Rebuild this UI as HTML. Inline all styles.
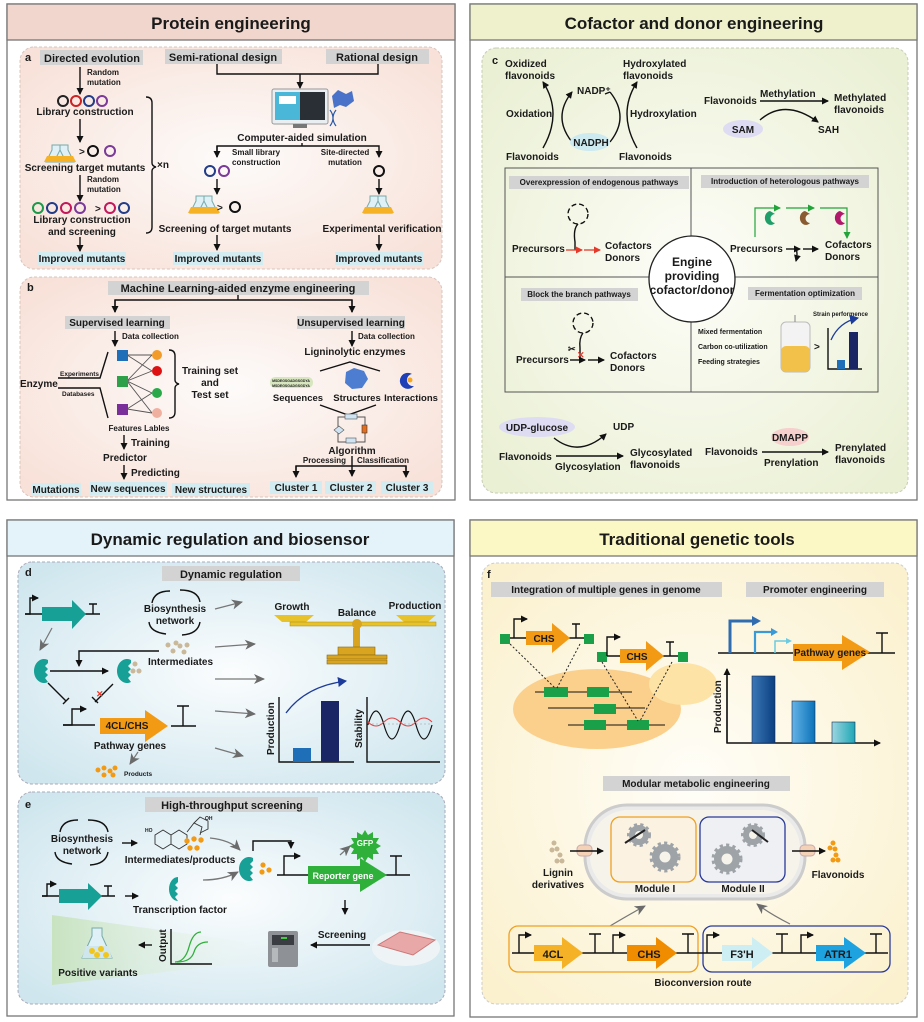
<!DOCTYPE html>
<html><head><meta charset="utf-8"><style>
html,body{margin:0;padding:0;background:#fff}
svg{display:block}
text{font-family:"Liberation Sans",Arial,sans-serif;font-weight:bold;fill:#1a1a1a}
.s{font-size:10px}.xs{font-size:8px}.xxs{font-size:6.5px}.m{font-size:11px}
.h{font-size:17px}
.c{text-anchor:middle}
.ln{stroke:#111;stroke-width:1.4;fill:none}
</style></head><body>
<svg width="924" height="1022" viewBox="0 0 924 1022" xmlns="http://www.w3.org/2000/svg">
<defs>
<marker id="ah" markerWidth="8" markerHeight="8" refX="6" refY="4" orient="auto" markerUnits="userSpaceOnUse"><path d="M0,0.5 L7,4 L0,7.5 Z" fill="#111"/></marker>
<marker id="ag" markerWidth="12" markerHeight="10" refX="10" refY="5" orient="auto" markerUnits="userSpaceOnUse"><path d="M0,0 L11,5 L0,10 L3,5 Z" fill="#6b6b6b"/></marker>
<marker id="ar" markerWidth="8" markerHeight="8" refX="6" refY="4" orient="auto" markerUnits="userSpaceOnUse"><path d="M0,0.5 L7,4 L0,7.5 Z" fill="#e53a2a"/></marker>
<marker id="agr" markerWidth="8" markerHeight="8" refX="6" refY="4" orient="auto" markerUnits="userSpaceOnUse"><path d="M0,0.5 L7,4 L0,7.5 Z" fill="#22a43a"/></marker>
<marker id="ab" markerWidth="10" markerHeight="10" refX="8" refY="5" orient="auto" markerUnits="userSpaceOnUse"><path d="M0,0 L9,5 L0,10 Z" fill="#1d3c9a"/></marker>
<radialGradient id="gp" cx="50%" cy="50%" r="65%"><stop offset="0" stop-color="#fdfbfa"/><stop offset="1" stop-color="#f8e1d8"/></radialGradient>
<radialGradient id="gg" cx="50%" cy="50%" r="65%"><stop offset="0" stop-color="#fdfdf8"/><stop offset="1" stop-color="#eaf0d4"/></radialGradient>
<radialGradient id="gb" cx="50%" cy="50%" r="65%"><stop offset="0" stop-color="#fbfdfe"/><stop offset="1" stop-color="#cfe6ee"/></radialGradient>
<radialGradient id="gy" cx="50%" cy="50%" r="65%"><stop offset="0" stop-color="#fffef8"/><stop offset="1" stop-color="#fbf1cf"/></radialGradient>
<linearGradient id="fade" x1="0" x2="1"><stop offset="0" stop-color="#c8e3c0"/><stop offset="1" stop-color="#eef6ee" stop-opacity="0"/></linearGradient>
<linearGradient id="b1" x1="0" x2="1"><stop offset="0" stop-color="#3b78b7"/><stop offset="1" stop-color="#0b3f80"/></linearGradient>
<linearGradient id="b2" x1="0" x2="1"><stop offset="0" stop-color="#64b3e6"/><stop offset="1" stop-color="#0a72b8"/></linearGradient>
<linearGradient id="b3" x1="0" x2="1"><stop offset="0" stop-color="#9bd6e0"/><stop offset="1" stop-color="#1fa6b5"/></linearGradient>
</defs>

<rect x="7" y="4" width="448" height="496" fill="#fff" stroke="#777" stroke-width="1.3"/>
<rect x="7" y="4" width="448" height="36" fill="#f0d6cd" stroke="#777" stroke-width="1.3"/>
<text x="231" y="29" class="h c">Protein engineering</text>

<rect x="470" y="4" width="447" height="496" fill="#fff" stroke="#777" stroke-width="1.3"/>
<rect x="470" y="4" width="447" height="36" fill="#eef1cc" stroke="#777" stroke-width="1.3"/>
<text x="694" y="29" class="h c">Cofactor and donor engineering</text>

<rect x="7" y="520" width="447" height="496" fill="#fff" stroke="#777" stroke-width="1.3"/>
<rect x="7" y="520" width="447" height="36" fill="#e4f2f9" stroke="#777" stroke-width="1.3"/>
<text x="230" y="545" class="h c">Dynamic regulation and biosensor</text>

<rect x="470" y="520" width="447" height="497" fill="#fff" stroke="#777" stroke-width="1.3"/>
<rect x="470" y="520" width="447" height="36" fill="#fcf8c6" stroke="#777" stroke-width="1.3"/>
<text x="697" y="545" class="h c">Traditional genetic tools</text>

<rect x="20" y="47" width="422" height="222" rx="14" fill="url(#gp)" stroke="#d9c4bd" stroke-dasharray="3,2"/>
<rect x="20" y="277" width="422" height="220" rx="14" fill="url(#gp)" stroke="#d9c4bd" stroke-dasharray="3,2"/>
<rect x="482" y="48" width="426" height="445" rx="14" fill="url(#gg)" stroke="#c7ccb5" stroke-dasharray="3,2"/>
<rect x="18" y="562" width="427" height="222" rx="14" fill="url(#gb)" stroke="#aab" stroke-dasharray="3,2"/>
<rect x="18" y="792" width="427" height="212" rx="14" fill="url(#gb)" stroke="#aab" stroke-dasharray="3,2"/>
<rect x="482" y="563" width="426" height="441" rx="14" fill="url(#gy)" stroke="#ccc" stroke-dasharray="3,2"/>

<!-- PANEL A -->
<text x="25" y="61" class="m">a</text>
<rect x="40" y="50" width="103" height="15" fill="#d3d3d3"/><text x="92" y="62" class="m c">Directed evolution</text>
<rect x="165" y="49" width="117" height="15" fill="#d3d3d3"/><text x="223" y="61" class="m c">Semi-rational design</text>
<rect x="326" y="49" width="103" height="15" fill="#d3d3d3"/><text x="377" y="61" class="m c">Rational design</text>
<line x1="80" y1="67" x2="80" y2="94" class="ln" marker-end="url(#ah)"/>
<text x="87" y="75" class="xs">Random</text><text x="87" y="85" class="xs">mutation</text>
<g fill="none" stroke-width="2">
<circle cx="63" cy="101" r="5" stroke="#222"/><circle cx="76" cy="101" r="5" stroke="#c22"/><circle cx="89" cy="101" r="5" stroke="#223c8a"/><circle cx="102" cy="101" r="5" stroke="#7a3a9a"/>
</g>
<text x="85" y="115" class="s c">Library construction</text>
<line x1="80" y1="119" x2="80" y2="142" class="ln" marker-end="url(#ah)"/>
<path d="M52,145 h8 v5 l6,12 h-20 l6,-12z M60,145 h8 v5 l6,12 h-20 l6,-12z" fill="#dff0f6" stroke="#7aa"/>
<path d="M47,156 h18 l3,6 h-24z M55,156 h18 l3,6 h-24z" fill="#f5b227"/>
<text x="79" y="155" class="s" fill="#223c8a">&gt;</text>
<circle cx="93" cy="151" r="5" fill="none" stroke="#111" stroke-width="2"/><circle cx="110" cy="151" r="5" fill="none" stroke="#7a3a9a" stroke-width="2"/>
<text x="85" y="171" class="s c">Screening target mutants</text>
<line x1="80" y1="175" x2="80" y2="201" class="ln" marker-end="url(#ah)"/>
<text x="87" y="182" class="xs">Random</text><text x="87" y="192" class="xs">mutation</text>
<g fill="none" stroke-width="2">
<circle cx="38" cy="208" r="5" stroke="#1a9a4a"/><circle cx="52" cy="208" r="5" stroke="#223c8a"/><circle cx="66" cy="208" r="5" stroke="#c2185b"/><circle cx="80" cy="208" r="5" stroke="#7a3a9a"/>
<circle cx="110" cy="208" r="5" stroke="#c2185b"/><circle cx="124" cy="208" r="5" stroke="#223c8a"/>
</g>
<text x="95" y="212" class="s" fill="#223c8a">&gt;</text>
<text x="82" y="223" class="s c">Library construction</text><text x="82" y="235" class="s c">and screening</text>
<line x1="80" y1="237" x2="80" y2="251" class="ln" marker-end="url(#ah)"/>
<rect x="38" y="252" width="88" height="13" fill="#d2ecf1"/><text x="82" y="262" class="s c">Improved mutants</text>
<path d="M146,97 q6,0 6,6 v60 q0,3 4,4 q-4,1 -4,4 v56 q0,6 -6,6" class="ln" stroke-width="1.2"/>
<text x="157" y="168" class="s">×n</text>
<polyline points="217,64 217,74 378,74 378,64" class="ln"/>
<line x1="300" y1="74" x2="300" y2="88" class="ln" marker-end="url(#ah)"/>
<rect x="272" y="89" width="56" height="35" rx="2" fill="#e9eef2" stroke="#999"/>
<rect x="275" y="92" width="25" height="28" fill="#4ab6d8"/><rect x="279" y="96" width="17" height="8" fill="#fff"/>
<rect x="300" y="92" width="25" height="28" fill="#2a2f36"/>
<rect x="293" y="124" width="14" height="4" fill="#777"/>
<path d="M332,96 l6,-6 l8,4 l6,-3 l2,10 l-8,6 l-6,-2 l-6,3z" fill="#4a72c8"/>
<path d="M330,110 q6,8 0,16 M336,110 q-6,8 0,16" stroke="#2a5aa8" stroke-width="1.2" fill="none"/>
<text x="302" y="141" class="s c">Computer-aided simulation</text>
<polyline points="217,157 217,146 379,146 379,157" class="ln" marker-end="url(#ah)"/>
<line x1="217" y1="146" x2="217" y2="157" class="ln" marker-end="url(#ah)"/>
<line x1="302" y1="143" x2="302" y2="146" class="ln"/>
<text x="232" y="155" class="xs">Small library</text><text x="232" y="165" class="xs">construction</text>
<text x="345" y="155" class="xs c">Site-directed</text><text x="345" y="165" class="xs c">mutation</text>
<circle cx="210" cy="171" r="5" fill="none" stroke="#223c8a" stroke-width="2"/><circle cx="224" cy="171" r="5" fill="none" stroke="#7a3a9a" stroke-width="2"/>
<line x1="217" y1="179" x2="217" y2="194" class="ln" marker-end="url(#ah)"/>
<path d="M196,196 h8 v5 l6,12 h-20 l6,-12z M204,196 h8 v5 l6,12 h-20 l6,-12z" fill="#dff0f6" stroke="#7aa"/>
<path d="M191,207 h18 l3,6 h-24z M199,207 h18 l3,6 h-24z" fill="#f5b227"/>
<text x="217" y="211" class="s" fill="#223c8a">&gt;</text>
<circle cx="235" cy="207" r="5" fill="none" stroke="#111" stroke-width="2"/>
<text x="225" y="232" class="s c">Screening of target mutants</text>
<line x1="217" y1="235" x2="217" y2="250" class="ln" marker-end="url(#ah)"/>
<rect x="173" y="252" width="90" height="13" fill="#d2ecf1"/><text x="218" y="262" class="s c">Improved mutants</text>
<circle cx="379" cy="171" r="5" fill="none" stroke="#111" stroke-width="2"/>
<line x1="379" y1="179" x2="379" y2="194" class="ln" marker-end="url(#ah)"/>
<path d="M370,196 h8 v5 l6,12 h-20 l6,-12z M378,196 h8 v5 l6,12 h-20 l6,-12z" fill="#dff0f6" stroke="#7aa"/>
<path d="M365,207 h18 l3,6 h-24z M373,207 h18 l3,6 h-24z" fill="#f5b227"/>
<text x="382" y="232" class="s c">Experimental verification</text>
<line x1="379" y1="235" x2="379" y2="250" class="ln" marker-end="url(#ah)"/>
<rect x="335" y="252" width="88" height="13" fill="#d2ecf1"/><text x="379" y="262" class="s c">Improved mutants</text>

<!-- PANEL B -->
<text x="27" y="291" class="m">b</text>
<rect x="108" y="281" width="261" height="14" fill="#d3d3d3"/><text x="238" y="292" class="m c">Machine Learning-aided enzyme engineering</text>
<line x1="238" y1="295" x2="238" y2="300" class="ln"/>
<polyline points="115,312 115,300 352,300 352,312" class="ln"/>
<line x1="115" y1="300" x2="115" y2="312" class="ln" marker-end="url(#ah)"/>
<line x1="352" y1="300" x2="352" y2="312" class="ln" marker-end="url(#ah)"/>
<rect x="65" y="316" width="105" height="13" fill="#d3d3d3"/><text x="117" y="326" class="s c">Supervised learning</text>
<rect x="297" y="316" width="108" height="13" fill="#d3d3d3"/><text x="351" y="326" class="s c">Unsupervised learning</text>
<line x1="115" y1="331" x2="115" y2="346" class="ln" marker-end="url(#ah)"/><text x="122" y="339" class="xs">Data collection</text>
<line x1="352" y1="331" x2="352" y2="346" class="ln" marker-end="url(#ah)"/><text x="358" y="339" class="xs">Data collection</text>
<g stroke="#555" stroke-width="0.9">
<line x1="127" y1="355" x2="152" y2="355"/><line x1="127" y1="355" x2="152" y2="371"/><line x1="127" y1="381" x2="152" y2="355"/><line x1="127" y1="381" x2="152" y2="393"/>
<line x1="127" y1="381" x2="152" y2="371"/><line x1="127" y1="409" x2="152" y2="393"/><line x1="127" y1="409" x2="152" y2="413"/><line x1="127" y1="381" x2="152" y2="413"/>
</g>
<rect x="117" y="350" width="11" height="11" fill="#1f6fb8"/><rect x="117" y="376" width="11" height="11" fill="#2ea04a"/><rect x="117" y="404" width="11" height="11" fill="#7a2e9a"/>
<circle cx="157" cy="355" r="5" fill="#f29b2a"/><circle cx="157" cy="371" r="5" fill="#d11"/><circle cx="157" cy="393" r="5" fill="#2aa84a"/><circle cx="157" cy="413" r="5" fill="#f0b0a0"/>
<text x="20" y="387" class="s">Enzyme</text>
<polyline points="58,378 100,378 108,352" class="ln" stroke-width="1"/><polyline points="58,388 100,388 108,418" class="ln" stroke-width="1"/>
<text x="60" y="376" class="xxs">Experiments</text><text x="62" y="396" class="xxs">Databases</text>
<path d="M169,350 q6,0 6,6 v24 q0,3 4,4 q-4,1 -4,4 v24 q0,6 -6,6" class="ln" stroke-width="1.2"/>
<text x="210" y="374" class="s c">Training set</text><text x="210" y="386" class="s c">and</text><text x="210" y="398" class="s c">Test set</text>
<text x="139" y="431" class="xs c">Features Lables</text>
<line x1="124" y1="435" x2="124" y2="449" class="ln" marker-end="url(#ah)"/><text x="131" y="446" class="s">Training</text>
<text x="125" y="461" class="s c">Predictor</text>
<line x1="124" y1="465" x2="124" y2="479" class="ln" marker-end="url(#ah)"/><text x="131" y="476" class="s">Predicting</text>
<rect x="32" y="483" width="49" height="13" fill="#d2ecf1"/><text x="56" y="493" class="s c">Mutations</text>
<rect x="90" y="482" width="77" height="13" fill="#d2ecf1"/><text x="128" y="492" class="s c">New sequences</text>
<rect x="172" y="483" width="78" height="13" fill="#d2ecf1"/><text x="211" y="493" class="s c">New structures</text>
<text x="355" y="355" class="s c">Ligninolytic enzymes</text>
<polyline points="320,371 350,362 380,371" class="ln" stroke-width="1"/>
<rect x="270" y="377" width="43" height="11" rx="5" fill="#d8e6c0"/>
<text x="291" y="382" class="c" style="font-size:3.5px">MSDEGSGADGSGDYA</text><text x="291" y="387" class="c" style="font-size:3.5px">MSDEGSGADGSGDYA</text>
<path d="M346,372 l8,-4 l10,3 l4,8 l-6,9 l-10,1 l-7,-6z" fill="#4c7dd0"/>
<path d="M412,374 a8,8 0 1 0 2,12 a5,5 0 0 1 -2,-12z" fill="#1f3fb8"/><circle cx="410" cy="380" r="2.5" fill="#f5a623"/>
<text x="298" y="401" class="c" style="font-size:9.5px">Sequences</text><text x="357" y="401" class="c" style="font-size:9.5px">Structures</text><text x="411" y="401" class="c" style="font-size:9.5px">Interactions</text>
<polyline points="320,405 348,415 376,405" class="ln" stroke-width="1"/>
<rect x="338" y="417" width="27" height="25" fill="none" stroke="#555"/>
<rect x="345" y="414" width="12" height="5" fill="#cfe3f2" stroke="#555" stroke-width=".6"/>
<rect x="362" y="425" width="5" height="8" fill="#e56e1d" stroke="#333" stroke-width=".6"/>
<path d="M334,430 l5,-4 l5,4 l-5,4z" fill="#cfe3f2" stroke="#555" stroke-width=".6"/>
<rect x="346" y="438" width="10" height="5" fill="#cfe3f2" stroke="#555" stroke-width=".6"/>
<text x="352" y="454" class="s c">Algorithm</text>
<text x="346" y="463" class="xs" text-anchor="end">Processing</text><text x="357" y="463" class="xs">Classification</text>
<line x1="352" y1="456" x2="352" y2="476" class="ln" marker-end="url(#ah)"/>
<polyline points="296,476 296,466 406,466 406,476" class="ln"/>
<line x1="296" y1="466" x2="296" y2="477" class="ln" marker-end="url(#ah)"/><line x1="406" y1="466" x2="406" y2="477" class="ln" marker-end="url(#ah)"/>
<rect x="270" y="481" width="52" height="13" fill="#d2ecf1"/><text x="296" y="491" class="s c">Cluster 1</text>
<rect x="325" y="481" width="51" height="13" fill="#d2ecf1"/><text x="351" y="491" class="s c">Cluster 2</text>
<rect x="381" y="481" width="52" height="13" fill="#d2ecf1"/><text x="407" y="491" class="s c">Cluster 3</text>

<!-- PANEL C -->
<text x="492" y="64" class="m">c</text>
<text x="505" y="67" class="s">Oxidized</text><text x="505" y="79" class="s">flavonoids</text>
<text x="623" y="67" class="s">Hydroxylated</text><text x="623" y="79" class="s">flavonoids</text>
<path d="M543,148 q20,-35 0,-66" class="ln" marker-end="url(#ah)"/>
<path d="M637,148 q-20,-35 0,-66" class="ln" marker-end="url(#ah)"/>
<path d="M572,142 q-20,-25 0,-50" class="ln" marker-end="url(#ah)"/>
<path d="M610,142 q20,-25 0,-50" class="ln"/><path d="M610,92 l-5,2" class="ln"/>
<ellipse cx="590" cy="142" rx="20" ry="9" fill="#cdeaf0"/>
<text x="591" y="146" class="s c">NADPH</text>
<text x="577" y="94" class="s">NADP⁺</text>
<text x="506" y="117" class="s">Oxidation</text><text x="630" y="117" class="s">Hydroxylation</text>
<text x="506" y="160" class="s">Flavonoids</text><text x="619" y="160" class="s">Flavonoids</text>
<text x="704" y="104" class="s">Flavonoids</text>
<text x="760" y="97" class="s">Methylation</text>
<line x1="760" y1="101" x2="828" y2="101" class="ln" marker-end="url(#ah)"/>
<text x="834" y="101" class="s">Methylated</text><text x="834" y="113" class="s">flavonoids</text>
<ellipse cx="743" cy="129" rx="20" ry="9" fill="#dedcf2"/><text x="743" y="133" class="s c">SAM</text>
<path d="M760,120 q25,-22 58,2" class="ln" marker-end="url(#ah)"/>
<text x="818" y="133" class="s">SAH</text>
<rect x="505" y="168" width="373" height="224" fill="none" stroke="#555"/>
<line x1="691" y1="168" x2="691" y2="392" stroke="#555"/><line x1="505" y1="277" x2="878" y2="277" stroke="#555"/>
<circle cx="692" cy="279" r="43" fill="#fff" stroke="#222" stroke-width="1.3"/>
<text x="692" y="266" class="c" style="font-size:12px">Engine</text><text x="692" y="280" class="c" style="font-size:12px">providing</text><text x="692" y="294" class="c" style="font-size:12px">cofactor/donor</text>
<rect x="509" y="176" width="180" height="13" fill="#d3d3d3"/><text x="599" y="185" class="xs c">Overexpression of endogenous pathways</text>
<rect x="701" y="175" width="168" height="13" fill="#d3d3d3"/><text x="785" y="184" class="xs c">Introduction of heterologous pathways</text>
<rect x="521" y="288" width="117" height="13" fill="#d3d3d3"/><text x="579" y="297" class="xs c">Block the branch pathways</text>
<rect x="748" y="287" width="114" height="13" fill="#d3d3d3"/><text x="805" y="296" class="xs c">Fermentation optimization</text>
<circle cx="578" cy="214" r="10" fill="none" stroke="#111" stroke-width="1.4" stroke-dasharray="5,3"/>
<path d="M578,224 q-5,5 -3,18 v8" class="ln"/>
<text x="512" y="252" class="s">Precursors</text>
<line x1="566" y1="250" x2="582" y2="250" stroke="#e53a2a" stroke-width="1.3" marker-end="url(#ar)"/>
<line x1="584" y1="250" x2="600" y2="250" stroke="#e53a2a" stroke-width="1.3" marker-end="url(#ar)"/>
<text x="605" y="249" class="s">Cofactors</text><text x="605" y="261" class="s">Donors</text>
<polyline points="755,237 755,208 780,208" fill="none" stroke="#22a43a" stroke-width="1.2" marker-end="url(#agr)"/>
<line x1="786" y1="208" x2="814" y2="208" stroke="#22a43a" stroke-width="1.2" marker-end="url(#agr)"/>
<polyline points="820,208 847,208 847,238" fill="none" stroke="#22a43a" stroke-width="1.2" marker-end="url(#agr)"/>
<path d="M770,211 a6,7 0 1 0 5,12 a3,3 0 0 1 0,-9z" fill="#1f9e6a"/>
<path d="M805,211 a6,7 0 1 0 5,12 a3,3 0 0 1 0,-9z" fill="#8a5a30"/>
<path d="M840,211 a6,7 0 1 0 5,12 a3,3 0 0 1 0,-9z" fill="#b0186a"/>
<text x="730" y="252" class="s">Precursors</text>
<line x1="786" y1="249" x2="800" y2="249" class="ln" marker-end="url(#ah)"/><line x1="803" y1="249" x2="818" y2="249" class="ln" marker-end="url(#ah)"/>
<path d="M796,249 q2,4 0,12" class="ln" stroke-width="1" marker-end="url(#ah)"/>
<text x="825" y="248" class="s">Cofactors</text><text x="825" y="260" class="s">Donors</text>
<circle cx="583" cy="323" r="10" fill="none" stroke="#111" stroke-width="1.4" stroke-dasharray="5,3"/>
<path d="M583,333 q-4,5 -3,15 v10" class="ln"/>
<text x="568" y="352" style="font-size:9px">✂</text>
<text x="577" y="358" style="font-size:9px;fill:#e53a2a">✕</text>
<text x="516" y="363" class="s">Precursors</text>
<line x1="570" y1="360" x2="585" y2="360" class="ln" marker-end="url(#ah)"/><line x1="588" y1="360" x2="604" y2="360" class="ln" marker-end="url(#ah)"/>
<text x="610" y="359" class="s">Cofactors</text><text x="610" y="371" class="s">Donors</text>
<text x="698" y="334" style="font-size:7px">Mixed fermentation</text>
<text x="698" y="349" style="font-size:7px">Carbon co-utilization</text>
<text x="698" y="364" style="font-size:7px">Feeding strategies</text>
<rect x="781" y="322" width="29" height="50" rx="5" fill="#f3f3f3" stroke="#bbb"/>
<rect x="781" y="346" width="29" height="26" rx="5" fill="#f2c14a"/>
<line x1="795" y1="315" x2="795" y2="322" stroke="#888"/>
<text x="814" y="350" class="s" fill="#223c8a">&gt;</text>
<polyline points="828,328 828,369 862,369" class="ln" stroke-width="1.2"/>
<rect x="837" y="360" width="8" height="9" fill="#1f6fb8"/><rect x="849" y="332" width="9" height="37" fill="#1a2566"/>
<path d="M831,340 q8,-18 27,-22" fill="none" stroke="#1d3c9a" stroke-width="1.3" marker-end="url(#ab)"/>
<text x="813" y="316" style="font-size:6px">Strain performence</text>
<ellipse cx="537" cy="427" rx="38" ry="10" fill="#dedcf2"/><text x="537" y="431" class="s c">UDP-glucose</text>
<text x="613" y="430" class="s">UDP</text>
<path d="M554,438 q25,20 52,-4" class="ln" marker-end="url(#ah)"/>
<text x="499" y="460" class="s">Flavonoids</text>
<line x1="556" y1="456" x2="623" y2="456" class="ln" marker-end="url(#ah)"/>
<text x="555" y="470" class="s">Glycosylation</text>
<text x="630" y="456" class="s">Glycosylated</text><text x="630" y="468" class="s">flavonoids</text>
<text x="705" y="455" class="s">Flavonoids</text>
<ellipse cx="790" cy="437" rx="19" ry="9" fill="#f6d0cc"/><text x="790" y="441" class="s c">DMAPP</text>
<line x1="762" y1="452" x2="828" y2="452" class="ln" marker-end="url(#ah)"/>
<text x="764" y="466" class="s">Prenylation</text>
<text x="835" y="451" class="s">Prenylated</text><text x="835" y="463" class="s">flavonoids</text>

<!-- PANEL D -->
<text x="25" y="576" class="m">d</text>
<rect x="162" y="566" width="138" height="15" fill="#d3d3d3"/><text x="231" y="578" class="m c">Dynamic regulation</text>
<polyline points="25,614 30,614 30,598 38,598" class="ln" marker-end="url(#ah)"/><line x1="25" y1="614" x2="100" y2="614" class="ln"/>
<polygon points="42,607 72,607 72,600 86,614 72,629 72,621 42,621" fill="#17a096"/>
<path d="M93,604 v10 M89,604 h8" class="ln"/>
<text x="175" y="612" class="s c">Biosynthesis</text><text x="175" y="624" class="s c">network</text>
<path d="M152,603 q2,-12 18,-12 M180,590 q18,0 20,12 M200,622 q-2,12 -18,13 M166,634 q-16,-2 -17,-12" class="ln" stroke-width="1"/>
<g fill="#c9b89a"><circle cx="168" cy="645" r="2.5"/><circle cx="173" cy="651" r="2.5"/><circle cx="180" cy="646" r="2.5"/><circle cx="187" cy="645" r="2.5"/><circle cx="184" cy="652" r="2.5"/><circle cx="176" cy="643" r="2.5"/></g>
<text x="148" y="665" class="s">Intermediates</text>
<path d="M159,651 h-80 v15" class="ln" marker-end="url(#ah)"/>
<path d="M52,628 l-12,22" stroke="#777" stroke-width="1.2" marker-end="url(#ag)"/>
<path d="M48,660 a10,12 0 1 0 0,22 l-3,-4 l3,-3 l-3,-3 l3,-3 l-3,-3 l3,-3z" fill="#17a096"/>
<line x1="50" y1="671" x2="108" y2="671" class="ln" marker-end="url(#ah)"/>
<path d="M131,660 a10,12 0 1 0 0,22 l-3,-4 l3,-3 l-3,-3 l3,-3 l-3,-3 l3,-3z" fill="#17a096"/>
<g fill="#c9b89a"><circle cx="135" cy="664" r="2.5"/><circle cx="133" cy="671" r="2.5"/><circle cx="139" cy="671" r="2.5"/></g>
<path d="M48,683 l18,18 M63,704 l6,-6" class="ln"/>
<path d="M113,684 l-18,18 M92,697 l6,6" class="ln"/>
<text x="96" y="697" style="font-size:9px;fill:#e53a2a">✕</text>
<polyline points="63,725 72,725 72,709 86,709" class="ln" marker-end="url(#ah)"/><line x1="63" y1="725" x2="95" y2="725" class="ln"/>
<polygon points="100,718 145,718 145,710 168,726 145,742 145,734 100,734" fill="#f39a14"/>
<text x="127" y="729" class="s c">4CL/CHS</text>
<line x1="171" y1="726" x2="196" y2="726" class="ln"/><path d="M183,706 v20 M177,706 h12" class="ln"/>
<text x="130" y="749" class="s c">Pathway genes</text>
<path d="M138,752 l-8,12" stroke="#777" stroke-width="1.2" marker-end="url(#ag)"/>
<g fill="#f39a14"><circle cx="98" cy="770" r="2.5"/><circle cx="104" cy="775" r="2.5"/><circle cx="104" cy="768" r="2.5"/><circle cx="110" cy="771" r="2.5"/><circle cx="115" cy="768" r="2.5"/><circle cx="113" cy="775" r="2.5"/></g>
<text x="124" y="776" style="font-size:6.5px">Products</text>
<g stroke="#777" stroke-width="1.3">
<line x1="215" y1="609" x2="242" y2="602" marker-end="url(#ag)"/>
<line x1="215" y1="647" x2="255" y2="644" marker-end="url(#ag)"/>
<line x1="215" y1="679" x2="264" y2="679" marker-end="url(#ag)"/>
<line x1="215" y1="711" x2="255" y2="714" marker-end="url(#ag)"/>
<line x1="215" y1="748" x2="243" y2="756" marker-end="url(#ag)"/>
</g>
<text x="292" y="610" class="s c">Growth</text><text x="357" y="616" class="s c">Balance</text><text x="415" y="609" class="s c">Production</text>
<path d="M274,615 h40 l-8,7 h-24z M396,615 h40 l-8,7 h-24z" fill="#e8c22a"/>
<rect x="290" y="622" width="146" height="4" fill="#e8c22a" stroke="#a88a10" stroke-width=".5"/>
<circle cx="357" cy="624" r="5" fill="#d9a420"/>
<rect x="353" y="628" width="7" height="20" fill="#d9a420"/>
<rect x="338" y="647" width="37" height="8" fill="#d9a420" stroke="#8a6a10" stroke-width=".6"/>
<rect x="327" y="655" width="60" height="4" fill="#d9a420" stroke="#8a6a10" stroke-width=".6"/>
<rect x="327" y="660" width="60" height="4" fill="#d9a420" stroke="#8a6a10" stroke-width=".6"/>
<polyline points="279,697 279,762 354,762" class="ln" stroke-width="1.2"/>
<rect x="293" y="748" width="18" height="14" fill="#1f6fb8"/><rect x="321" y="701" width="18" height="61" fill="#1a2566"/>
<path d="M286,713 q20,-27 60,-32" fill="none" stroke="#1d3c9a" stroke-width="1.3" marker-end="url(#ab)"/>
<text x="274" y="755" class="s" transform="rotate(-90 274 755)">Production</text>
<polyline points="367,697 367,762 440,762" class="ln" stroke-width="1.2"/>
<text x="362" y="748" class="s" transform="rotate(-90 362 748)">Stability</text>
<path d="M368,725 q8,-28 16,0 t16,0 t16,0 t16,0" fill="none" stroke="#111" stroke-width="1.2"/>
<path d="M368,722 q8,8 16,0 t16,0 t16,0 t16,0" fill="none" stroke="#e04040" stroke-width="1"/>
<line x1="368" y1="724" x2="432" y2="724" stroke="#999" stroke-dasharray="2,2" stroke-width=".6"/>

<!-- PANEL E -->
<text x="25" y="808" class="m">e</text>
<rect x="145" y="797" width="173" height="15" fill="#d3d3d3"/><text x="232" y="809" class="m c">High-throughput screening</text>
<text x="82" y="842" class="s c">Biosynthesis</text><text x="82" y="854" class="s c">network</text>
<path d="M60,832 q2,-12 18,-12 M88,820 q18,0 20,12 M108,852 q-2,12 -18,13 M72,864 q-16,-2 -17,-12" class="ln" stroke-width="1"/>
<line x1="122" y1="843" x2="137" y2="843" class="ln" marker-end="url(#ah)"/>
<path d="M155,835 l8,-5 l8,5 v9 l-8,5 l-8,-5z M171,835 l8,-5 l8,5 v9 l-8,5 l-8,-5z M187,832 l7,-9 l8,4 l-2,8 M194,823 l6,-6 l8,4 v8 l-8,4" fill="none" stroke="#333" stroke-width=".9"/>
<text x="145" y="832" style="font-size:5px">HO</text><text x="205" y="820" style="font-size:5px">OH</text>
<g fill="#f39a14"><circle cx="187" cy="841" r="2.7"/><circle cx="194" cy="839" r="2.7"/><circle cx="201" cy="840" r="2.7"/><circle cx="190" cy="848" r="2.7"/><circle cx="197" cy="848" r="2.7"/></g>
<text x="180" y="863" class="s c">Intermediates/products</text>
<path d="M210,838 q20,2 30,12" stroke="#777" stroke-width="1.3" fill="none" marker-end="url(#ag)"/>
<path d="M253,858 a10,12 0 1 0 0,22 l-3,-4 l3,-3 l-3,-3 l3,-3 l-3,-3 l3,-3z" fill="#17a096"/>
<g fill="#f39a14"><circle cx="263" cy="865" r="2.6"/><circle cx="262" cy="872" r="2.6"/><circle cx="269" cy="870" r="2.6"/></g>
<polyline points="253,851 253,841 291,841 291,848" class="ln" stroke-width="1" marker-end="url(#ah)"/>
<polyline points="284,875 284,856 300,856" class="ln" marker-end="url(#ah)"/>
<line x1="277" y1="875" x2="410" y2="875" class="ln"/>
<polygon points="308,866 360,866 360,858 387,875 360,892 360,884 308,884" fill="#2fb03a"/>
<text x="343" y="879" class="c" style="fill:#fff;font-size:9px">Reporter gene</text>
<path d="M396,856 v19 M390,856 h12" class="ln"/>
<path d="M365,830 l3,5 l5,-3 l0,6 l6,0 l-3,5 l5,3 l-5,3 l3,5 l-6,0 l0,6 l-5,-3 l-3,5 l-3,-5 l-5,3 l0,-6 l-6,0 l3,-5 l-5,-3 l5,-3 l-3,-5 l6,0 l0,-6 l5,3z" fill="#2fb03a"/>
<text x="365" y="846" class="c" style="fill:#fff;font-size:8px">GFP</text>
<line x1="340" y1="855" x2="350" y2="846" stroke="#777" stroke-width="1.2" marker-end="url(#ag)"/>
<polyline points="42,896 47,896 47,884 56,884" class="ln" marker-end="url(#ah)"/><line x1="42" y1="896" x2="115" y2="896" class="ln"/>
<polygon points="59,889 88,889 88,883 102,896 88,910 88,903 59,903" fill="#17a096"/>
<path d="M108,886 v10 M104,886 h8" class="ln"/>
<line x1="125" y1="896" x2="138" y2="896" class="ln" marker-end="url(#ah)"/>
<path d="M178,877 a9,12 0 1 0 0,24 l-3,-4 l3,-3 l-3,-3 l3,-3 l-3,-3 l3,-3z" fill="#17a096"/>
<path d="M203,880 q20,0 35,-8" stroke="#777" stroke-width="1.3" fill="none" marker-end="url(#ag)"/>
<text x="180" y="913" class="s c">Transcription factor</text>
<line x1="345" y1="900" x2="345" y2="914" class="ln" marker-end="url(#ah)"/>
<polygon points="52,915 270,945 270,960 52,985" fill="url(#fade)"/>
<path d="M92,928 h10 v8 l10,22 h-30 l10,-22z" fill="#dff0f6" stroke="#7aa"/>
<path d="M86,946 h22 l4,12 h-30z" fill="#cfe6ee"/>
<g fill="#f2c61a"><circle cx="92" cy="951" r="3"/><circle cx="101" cy="949" r="3"/><circle cx="97" cy="955" r="3"/><circle cx="106" cy="955" r="3"/></g>
<text x="98" y="976" class="s c">Positive variants</text>
<line x1="152" y1="945" x2="139" y2="945" class="ln" marker-end="url(#ah)"/>
<polyline points="171,929 171,964 212,964" class="ln" stroke-width="1.1"/>
<text x="166" y="962" class="s" transform="rotate(-90 166 962)">Output</text>
<path d="M175,962 q10,0 14,-15 q4,-15 12,-15" fill="none" stroke="#2fb03a" stroke-width="1.3"/>
<path d="M177,962 q14,0 17,-10 q3,-10 14,-10" fill="none" stroke="#2fb03a" stroke-width="1.3"/>
<rect x="268" y="931" width="30" height="36" rx="2" fill="#8e9296"/>
<rect x="272" y="935" width="22" height="10" fill="#3a3d42"/><rect x="281" y="937" width="6" height="2" fill="#4c4"/>
<rect x="272" y="948" width="6" height="14" fill="#b6b9bc"/>
<text x="342" y="938" class="s c">Screening</text>
<line x1="370" y1="945" x2="311" y2="945" class="ln" marker-end="url(#ah)"/>
<ellipse cx="406" cy="948" rx="34" ry="18" fill="#eef4f6"/>
<path d="M378,945 l22,-13 l35,8 l-22,15z" fill="#e8a8a8" stroke="#c77"/>

<!-- PANEL F -->
<text x="487" y="578" class="m">f</text>
<rect x="491" y="582" width="231" height="15" fill="#d3d3d3"/><text x="606" y="593" class="s c">Integration of multiple genes in genome</text>
<rect x="746" y="582" width="138" height="15" fill="#d3d3d3"/><text x="815" y="593" class="s c">Promoter engineering</text>
<ellipse cx="597" cy="709" rx="84" ry="40" fill="#fbd08c"/>
<ellipse cx="683" cy="684" rx="34" ry="21" fill="#fde3a6"/>
<g stroke="#111" stroke-width="1.1">
<line x1="535" y1="692" x2="632" y2="692"/><line x1="548" y1="708" x2="645" y2="708"/><line x1="568" y1="725" x2="665" y2="725"/>
</g>
<g fill="#1aa048"><rect x="544" y="687" width="24" height="10"/><rect x="587" y="687" width="22" height="10"/><rect x="594" y="704" width="22" height="10"/><rect x="584" y="720" width="22" height="10"/><rect x="627" y="720" width="22" height="10"/>
<rect x="500" y="634" width="10" height="10"/><rect x="584" y="634" width="10" height="10"/><rect x="597" y="652" width="10" height="10"/><rect x="678" y="652" width="10" height="10"/></g>
<line x1="510" y1="638" x2="584" y2="638" class="ln"/>
<polyline points="514,638 514,619 527,619" class="ln" marker-end="url(#ah)"/>
<polygon points="526,631 552,631 552,623 570,638 552,653 552,645 526,645" fill="#f39a14"/><text x="544" y="642" class="s c">CHS</text>
<path d="M576,624 v14 M572,624 h8" class="ln"/>
<line x1="607" y1="656" x2="678" y2="656" class="ln"/>
<polyline points="607,656 607,637 620,637" class="ln" marker-end="url(#ah)"/>
<polygon points="620,649 646,649 646,641 664,656 646,671 646,663 620,663" fill="#f39a14"/><text x="637" y="660" class="s c">CHS</text>
<path d="M670,642 v14 M666,642 h8" class="ln"/>
<g stroke="#222" stroke-width="1" stroke-dasharray="2,2">
<line x1="510" y1="644" x2="555" y2="688"/><line x1="580" y1="644" x2="557" y2="688"/><line x1="602" y1="662" x2="638" y2="721"/><line x1="672" y1="662" x2="640" y2="721"/>
</g>
<line x1="718" y1="653" x2="895" y2="653" class="ln"/>
<path d="M730,653 v-32 h24" stroke="#2f6db0" stroke-width="3" fill="none"/><path d="M752,616 l9,5 l-9,5z" fill="#2f6db0"/>
<path d="M755,653 v-21 h17" stroke="#3a9ad8" stroke-width="2.2" fill="none"/><path d="M771,628 l7,4 l-7,4z" fill="#3a9ad8"/>
<path d="M775,653 v-12 h12" stroke="#6ccbe0" stroke-width="1.5" fill="none"/><path d="M786,638 l6,3 l-6,3z" fill="#6ccbe0"/>
<polygon points="793,644 842,644 842,635 870,652 842,670 842,661 793,661" fill="#f39a14"/>
<text x="830" y="656" class="s c">Pathway genes</text>
<path d="M882,633 v20 M876,633 h12" class="ln"/>
<polyline points="727,670 727,743 880,743" class="ln" stroke-width="1.2" marker-end="url(#ah)"/>
<line x1="727" y1="743" x2="727" y2="669" class="ln" stroke-width="1.2" marker-end="url(#ah)"/>
<rect x="752" y="676" width="23" height="67" fill="url(#b1)" stroke="#1a2a50" stroke-width=".6"/>
<rect x="792" y="701" width="23" height="42" fill="url(#b2)" stroke="#1a2a50" stroke-width=".6"/>
<rect x="832" y="722" width="23" height="21" fill="url(#b3)" stroke="#1a2a50" stroke-width=".6"/>
<text x="721" y="733" class="s" transform="rotate(-90 721 733)">Production</text>
<rect x="603" y="776" width="187" height="15" fill="#d3d3d3"/><text x="696" y="787" class="s c">Modular metabolic engineering</text>
<rect x="585" y="805" width="220" height="94" rx="42" fill="#eaeaea" stroke="#ccc" stroke-width="3"/>
<rect x="590" y="810" width="210" height="84" rx="38" fill="#f6f3ea"/>
<rect x="611" y="817" width="85" height="65" rx="9" fill="#fbf2e2" stroke="#f0a020" stroke-width="1.3"/>
<rect x="700" y="817" width="85" height="65" rx="9" fill="#eef0f4" stroke="#2a3a9a" stroke-width="1.3"/>
<g fill="#9ea3a8" stroke="#9ea3a8" stroke-dasharray="3,3">
<circle cx="639" cy="835" r="10" stroke-width="4"/><circle cx="665" cy="857" r="13" stroke-width="5"/>
<circle cx="727" cy="859" r="13" stroke-width="5"/><circle cx="753" cy="835" r="10" stroke-width="4"/>
</g>
<g fill="#f6f3ea"><circle cx="639" cy="835" r="4"/><circle cx="665" cy="857" r="5.5"/><circle cx="727" cy="859" r="5.5"/><circle cx="753" cy="835" r="4"/></g>
<line x1="625" y1="843" x2="645" y2="830" stroke="#222" stroke-width="2"/>
<line x1="752" y1="830" x2="768" y2="842" stroke="#222" stroke-width="2"/>
<text x="655" y="892" class="s c">Module I</text><text x="743" y="892" class="s c">Module II</text>
<g fill="#c9b89a"><circle cx="554" cy="843" r="2.5"/><circle cx="557" cy="849" r="2.5"/><circle cx="552" cy="850" r="2.5"/><circle cx="560" cy="855" r="2.5"/><circle cx="557" cy="861" r="2.5"/><circle cx="562" cy="861" r="2.5"/></g>
<text x="558" y="876" class="s c">Lignin</text><text x="558" y="888" class="s c">derivatives</text>
<rect x="577" y="845" width="15" height="11" rx="4" fill="#f4d2b8" stroke="#caa"/>
<line x1="570" y1="851" x2="603" y2="851" class="ln" marker-end="url(#ah)"/>
<rect x="800" y="845" width="15" height="11" rx="4" fill="#f4d2b8" stroke="#caa"/>
<line x1="792" y1="851" x2="825" y2="851" class="ln" marker-end="url(#ah)"/>
<g fill="#f39a14"><circle cx="833" cy="843" r="2.5"/><circle cx="830" cy="848" r="2.5"/><circle cx="835" cy="849" r="2.5"/><circle cx="836" cy="855" r="2.5"/><circle cx="833" cy="860" r="2.5"/><circle cx="838" cy="860" r="2.5"/></g>
<text x="838" y="878" class="s c">Flavonoids</text>
<path d="M610,926 q20,-12 35,-20" stroke="#777" stroke-width="1.2" fill="none" marker-end="url(#ag)"/>
<path d="M790,924 q-20,-10 -33,-20" stroke="#777" stroke-width="1.2" fill="none" marker-end="url(#ag)"/>
<rect x="509" y="926" width="189" height="46" rx="9" fill="none" stroke="#f0a020" stroke-width="1.3"/>
<rect x="703" y="926" width="187" height="46" rx="9" fill="none" stroke="#2a3a9a" stroke-width="1.3"/>
<line x1="512" y1="953" x2="888" y2="953" class="ln"/>
<polyline points="519,953 519,935 531,935" class="ln" marker-end="url(#ah)"/>
<polygon points="534,945 562,945 562,937 583,953 562,969 562,961 534,961" fill="#f5b227"/><text x="553" y="958" class="m c">4CL</text>
<path d="M595,934 v19 M589,934 h12" class="ln"/>
<polyline points="613,953 613,935 625,935" class="ln" marker-end="url(#ah)"/>
<polygon points="627,945 656,945 656,937 677,953 656,969 656,961 627,961" fill="#f08c00"/><text x="649" y="958" class="m c">CHS</text>
<path d="M688,934 v19 M682,934 h12" class="ln"/>
<polyline points="707,953 707,935 719,935" class="ln" marker-end="url(#ah)"/>
<polygon points="722,945 752,945 752,937 773,953 752,969 752,961 722,961" fill="#cdeef3"/><text x="742" y="958" class="m c">F3'H</text>
<path d="M782,934 v19 M776,934 h12" class="ln"/>
<polyline points="801,953 801,935 813,935" class="ln" marker-end="url(#ah)"/>
<polygon points="816,945 844,945 844,937 866,953 844,969 844,961 816,961" fill="#1ea3e0"/><text x="838" y="958" class="m c">ATR1</text>
<path d="M876,934 v19 M870,934 h12" class="ln"/>
<text x="703" y="986" class="s c">Bioconversion route</text>
</svg>
</body></html>
